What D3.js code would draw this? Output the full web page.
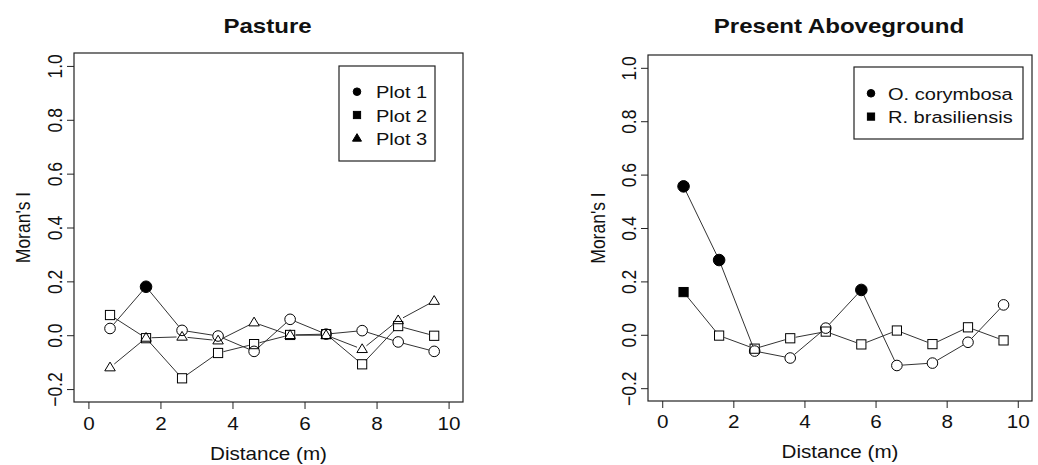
<!DOCTYPE html>
<html>
<head>
<meta charset="utf-8">
<style>
  body { margin: 0; background: #fff; }
  svg text { font-family: "Liberation Sans", Arial, sans-serif; fill: #111; }
</style>
</head>
<body>
<div id="chart"></div>
<script src="https://d3js.org/d3.v7.min.js"></script>
<script>
// distance classes (m)
const dist = [0.6, 1.6, 2.6, 3.6, 4.6, 5.6, 6.6, 7.6, 8.6, 9.6];

// Pasture
const plot1 = [0.025, 0.18, 0.018, -0.003, -0.06, 0.059, 0.004, 0.017, -0.025, -0.06];
const plot1Sig = [0, 1, 0, 0, 0, 0, 0, 0, 0, 0];
const plot2 = [0.075, -0.011, -0.16, -0.066, -0.033, 0.001, 0.004, -0.108, 0.034, -0.002];
const plot2Sig = [0, 0, 0, 0, 0, 0, 0, 0, 0, 0];
const plot3 = [-0.12, -0.01, -0.006, -0.02, 0.047, 0.0, 0.0, -0.052, 0.055, 0.127];
const plot3Sig = [0, 0, 0, 0, 0, 0, 0, 0, 0, 0];

// Present aboveground
const corymbosa = [0.556, 0.28, -0.061, -0.087, 0.025, 0.168, -0.115, -0.106, -0.028, 0.112];
const corymbosaSig = [1, 1, 0, 0, 0, 1, 0, 0, 0, 0];
const brasiliensis = [0.16, -0.003, -0.052, -0.013, 0.012, -0.036, 0.016, -0.035, 0.028, -0.021];
const brasiliensisSig = [1, 0, 0, 0, 0, 0, 0, 0, 0, 0];

const xTicks = [0, 2, 4, 6, 8, 10];
const yTicks = [-0.2, 0.0, 0.2, 0.4, 0.6, 0.8, 1.0];

const SX = 1.18;   // the picture is a bit wider than tall
const width = 1038, height = 465;

const svg = d3.select('#chart').append('svg')
  .attr('width', width)
  .attr('height', height)
  .style('background', '#fff');

function marker(g, shape, cx, cy, filled, size) {
  const fill = filled ? '#000' : 'none';
  if (shape === 'circle') {
    g.append('circle').attr('cx', cx).attr('cy', cy).attr('r', size)
      .attr('fill', fill).attr('stroke', '#000').attr('stroke-width', 1);
  } else if (shape === 'square') {
    g.append('rect').attr('x', cx - size).attr('y', cy - size)
      .attr('width', size * 2).attr('height', size * 2)
      .attr('fill', fill).attr('stroke', '#000').attr('stroke-width', 1);
  } else {
    const h = size * 1.75;
    g.append('path')
      .attr('d', `M${cx},${cy - h * 0.62} L${cx + size * 1.05},${cy + h * 0.38} L${cx - size * 1.05},${cy + h * 0.38} Z`)
      .attr('fill', fill).attr('stroke', '#000').attr('stroke-width', 1);
  }
}

function panel(opt) {
  const x = d3.scaleLinear().domain([-0.4, 10.4]).range([opt.left, opt.right]);
  const y = d3.scaleLinear().domain([-0.248, 1.048]).range([opt.bottom, opt.top]);
  const g = svg.append('g');

  // axes
  const xa = g.append('g')
    .attr('transform', `translate(0,${opt.bottom})`)
    .call(d3.axisBottom(x).tickValues(xTicks).tickSize(7).tickSizeOuter(0));
  xa.select('.domain').remove();
  xa.selectAll('line').attr('stroke', '#222');
  xa.selectAll('text')
    .attr('y', null).attr('dy', null)
    .attr('transform', `translate(0,${opt.xTickBase}) scale(${SX},1)`)
    .style('font-size', '17.5px');

  const ya = g.append('g')
    .attr('transform', `translate(${opt.left},0)`)
    .call(d3.axisLeft(y).tickValues(yTicks).tickFormat(d3.format('.1f')).tickSize(7).tickSizeOuter(0));
  ya.select('.domain').remove();
  ya.selectAll('line').attr('stroke', '#222');
  ya.selectAll('text')
    .attr('x', null).attr('dy', null)
    .attr('text-anchor', 'middle')
    .attr('transform', `translate(-12,0) scale(${SX},1) rotate(-90)`)
    .style('font-size', '17.5px');

  // box
  g.append('rect')
    .attr('x', opt.left).attr('y', opt.top)
    .attr('width', opt.right - opt.left).attr('height', opt.bottom - opt.top)
    .attr('fill', 'none').attr('stroke', '#222').attr('stroke-width', 1.2);

  // series, lines with gaps around points (type = "b")
  opt.series.forEach(s => {
    const pts = dist.map((d, i) => [x(d), y(s.values[i]), s.sig[i]]);
    for (let i = 0; i < pts.length - 1; i++) {
      const [x0, y0] = pts[i], [x1, y1] = pts[i + 1];
      const len = Math.hypot(x1 - x0, y1 - y0);
      const gap = 5.5;
      if (len <= gap * 2) continue;
      const ux = (x1 - x0) / len, uy = (y1 - y0) / len;
      g.append('line')
        .attr('x1', x0 + ux * gap).attr('y1', y0 + uy * gap)
        .attr('x2', x1 - ux * gap).attr('y2', y1 - uy * gap)
        .attr('stroke', '#333').attr('stroke-width', 1);
    }
    pts.forEach(p => {
      const size = s.shape === 'circle' ? (p[2] ? 5.8 : 5.3) : (s.shape === 'square' ? 4.6 : 5);
      marker(g, s.shape, p[0], p[1], p[2], size);
    });
  });

  // legend
  const lg = g.append('g');
  lg.append('rect')
    .attr('x', opt.legend.x).attr('y', opt.legend.y)
    .attr('width', opt.legend.w).attr('height', opt.legend.h)
    .attr('fill', '#fff').attr('stroke', '#222').attr('stroke-width', 1.2);
  opt.series.forEach((s, i) => {
    const cy = opt.legend.firstY + i * 23.3;
    const size = s.shape === 'circle' ? 3.8 : (s.shape === 'square' ? 3.6 : 4.3);
    marker(lg, s.shape, opt.legend.symX, cy, true, size);
    lg.append('text')
      .attr('transform', `translate(${opt.legend.textX},${cy + 6.5}) scale(${SX},1)`)
      .style('font-size', '17px')
      .text(s.name);
  });

  // titles
  const cx = (opt.left + opt.right) / 2;
  g.append('text')
    .attr('text-anchor', 'middle')
    .attr('transform', `translate(${cx - 1},33) scale(${SX},1)`)
    .style('font-size', '20.4px').style('font-weight', 'bold')
    .text(opt.title);
  g.append('text')
    .attr('text-anchor', 'middle')
    .attr('transform', `translate(${cx},${opt.xLabBase}) scale(${SX},1)`)
    .style('font-size', '17.5px')
    .text('Distance (m)');
  g.append('text')
    .attr('text-anchor', 'middle')
    .attr('transform', `translate(${opt.yLabX},${(opt.top + opt.bottom) / 2}) scale(${SX},1) rotate(-90)`)
    .style('font-size', '17.5px')
    .text("Moran's I");
}

panel({
  title: 'Pasture',
  left: 74, right: 463, top: 53, bottom: 402,
  xTickBase: 28, xLabBase: 460, yLabX: 30,
  legend: { x: 339, y: 66, w: 96, h: 95, firstY: 91.7, symX: 357, textX: 376 },
  series: [
    { name: 'Plot 1', values: plot1, sig: plot1Sig, shape: 'circle' },
    { name: 'Plot 2', values: plot2, sig: plot2Sig, shape: 'square' },
    { name: 'Plot 3', values: plot3, sig: plot3Sig, shape: 'triangle' }
  ]
});

panel({
  title: 'Present Aboveground',
  left: 648, right: 1032, top: 55, bottom: 401,
  xTickBase: 27, xLabBase: 458, yLabX: 605,
  legend: { x: 854, y: 67, w: 169, h: 72, firstY: 93.3, symX: 871, textX: 888 },
  series: [
    { name: 'O. corymbosa', values: corymbosa, sig: corymbosaSig, shape: 'circle' },
    { name: 'R. brasiliensis', values: brasiliensis, sig: brasiliensisSig, shape: 'square' }
  ]
});
</script>
</body>
</html>
